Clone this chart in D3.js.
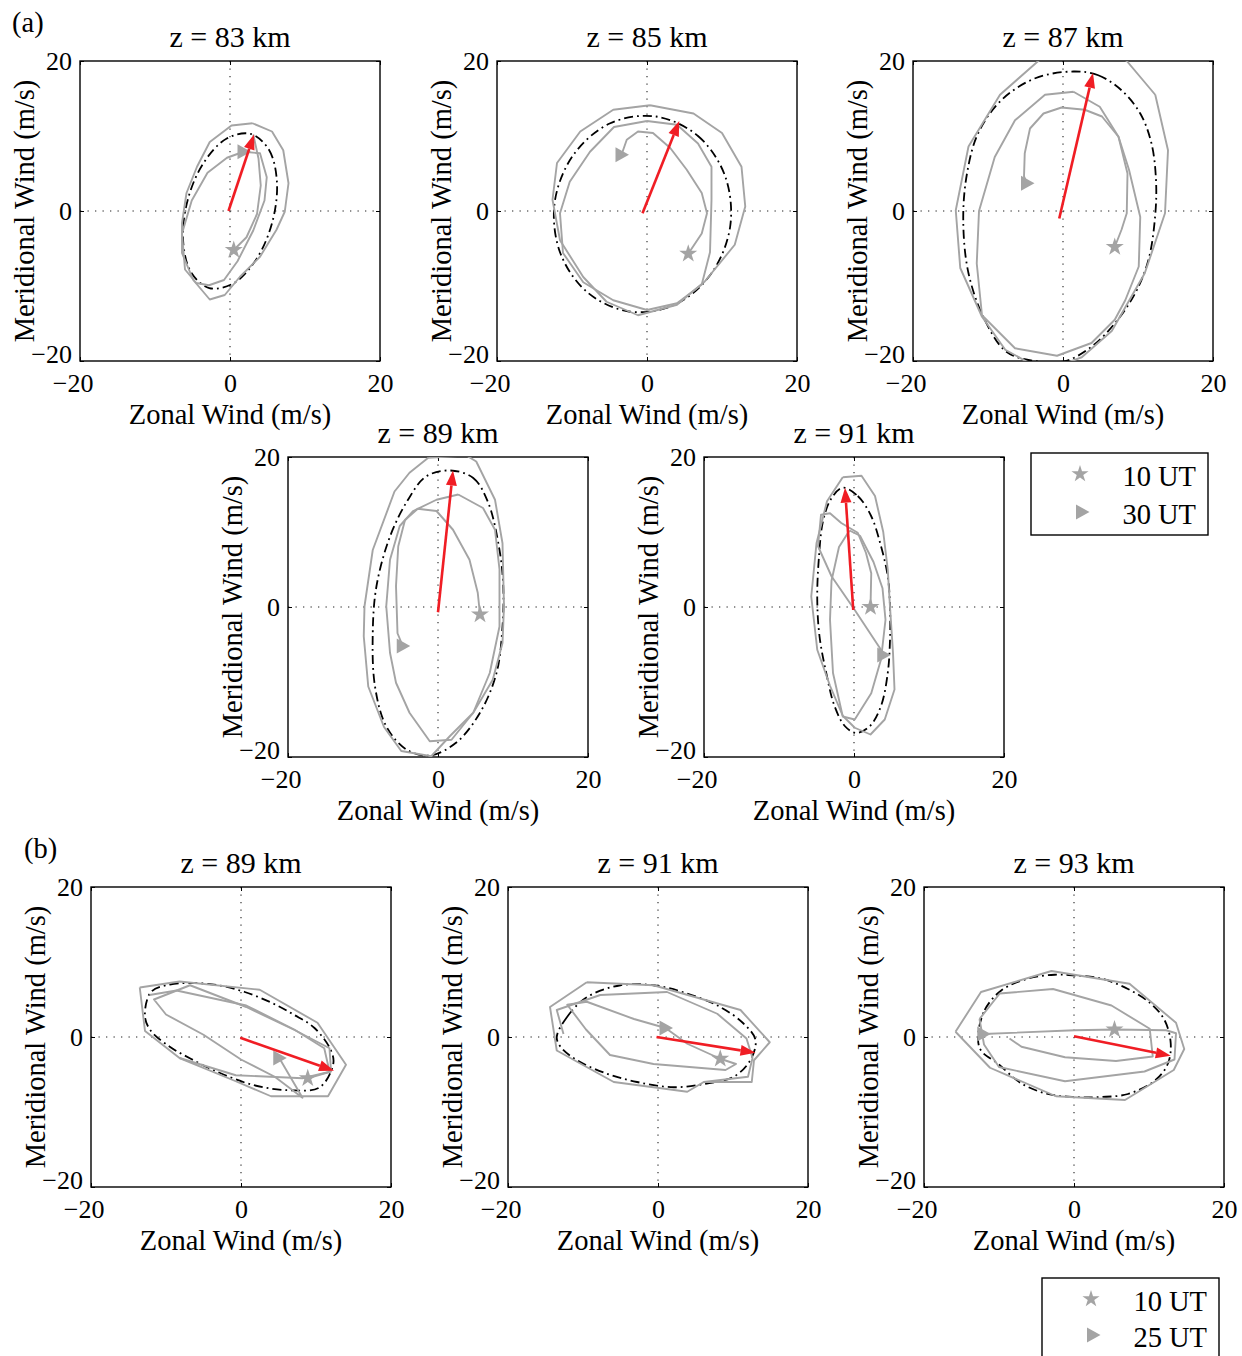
<!DOCTYPE html>
<html><head><meta charset="utf-8">
<script src="https://cdn.jsdelivr.net/npm/d3@7"></script>
<style>
body{margin:0;background:#fff}
svg{display:block}
text{font-family:"Liberation Serif","Times New Roman",serif;fill:#000}
</style>
</head><body>
<svg id="c" width="1242" height="1356"></svg>
<script>
// ---------------- data ----------------
const titles = ["z = 83 km","z = 85 km","z = 87 km","z = 89 km","z = 91 km","z = 89 km","z = 91 km","z = 93 km"];
const tickValues = [-20, 0, 20];
const tickLabels = ["\u221220", "0", "20"];
const xLabel = "Zonal Wind (m/s)";
const yLabel = "Meridional Wind (m/s)";
const legendA = ["10 UT", "30 UT"];
const legendB = ["10 UT", "25 UT"];

// fitted tidal ellipses (dash-dot), [u, v] in m/s
const ell83a = [[2.76,10.28],[5.21,8.14],[6.26,3.83],[5.63,-1.51],[3.50,-6.45],[0.43,-9.66],[-2.76,-10.28],[-5.21,-8.14],[-6.26,-3.83],[-5.63,1.51],[-3.50,6.45],[-0.43,9.66]];
const ell85a = [[1.2,12.6],[6.8,10.0],[10.4,4.7],[11.1,-2.0],[8.6,-8.3],[3.7,-12.5],[-2.4,-13.4],[-8.0,-10.8],[-11.6,-5.5],[-12.3,1.2],[-9.8,7.5],[-4.9,11.7]];
const ell87a = [[1.4,18.6],[4.7,18.1],[7.8,16.1],[10.3,13.0],[11.8,9.0],[12.4,4.1],[12.3,-0.5],[11.4,-6.5],[9.6,-11.0],[6.9,-15.0],[3.8,-18.1],[0.3,-20.0],[-3.8,-20.0],[-7.5,-18.8],[-10.4,-14.6],[-12.6,-8.3],[-13.3,-1.2],[-12.8,5.0],[-11.3,10.4],[-8.2,14.8],[-3.7,17.7]];
const ell89a = [[1.6,18.2],[4.7,17.2],[6.7,13.9],[8.2,7.6],[8.7,2.8],[8.6,-2.6],[7.8,-8.8],[5.6,-14.1],[2.4,-18.1],[-1.1,-19.8],[-4.2,-19.0],[-6.9,-15.9],[-8.4,-10.6],[-8.7,-3.5],[-8.2,2.8],[-6.4,9.4],[-4.0,14.3],[-1.6,17.4]];
const ell91a = [[-1.5,15.9],[0.5,14.8],[2.3,12.1],[3.6,8.1],[4.5,4.1],[4.8,0.1],[4.8,-4.4],[4.5,-8.8],[3.6,-13.2],[2.1,-15.9],[0.3,-16.8],[-1.2,-15.9],[-2.6,-13.2],[-3.7,-8.8],[-4.6,-3.9],[-4.9,1.0],[-4.7,6.3],[-4.1,11.6],[-3.0,14.5]];
const ell89b = [[-12.0,6.0],[-9.5,7.0],[-6.8,7.2],[-3.0,6.9],[0.5,6.0],[4.0,4.6],[7.0,3.0],[9.8,1.2],[12.0,-1.8],[12.3,-3.6],[10.5,-6.7],[6.5,-7.1],[1.6,-6.4],[-3.7,-4.4],[-6.7,-2.9],[-9.5,-1.3],[-12.0,0.8],[-12.8,2.7]];
const ell91b = [[-13.5,0.0],[-12.1,2.7],[-9.5,5.3],[-5.0,6.9],[-0.6,6.9],[3.9,5.8],[8.3,4.0],[11.4,1.8],[13.0,-0.4],[12.3,-3.1],[10.1,-5.3],[6.5,-6.2],[2.1,-6.7],[-2.8,-6.0],[-6.8,-4.9],[-10.8,-3.1],[-13.0,-1.3]];
const ell93b = [[-12.8,0.0],[-11.9,3.6],[-9.7,6.2],[-6.1,7.8],[-2.6,8.3],[0.1,8.2],[3.6,7.8],[7.2,6.4],[10.3,4.4],[12.1,2.2],[12.9,-0.9],[12.5,-3.6],[10.8,-5.8],[7.2,-7.6],[3.6,-8.0],[0.1,-8.0],[-3.5,-7.6],[-7.0,-6.2],[-10.1,-3.6],[-12.4,-1.8]];

// observed hodograph traces (grey), each a list of polylines of [u, v]
const tr83a = [
 [[0.5,-5.2],[2.2,-3.5],[3.6,-0.4],[4.1,3.4],[3.8,7.0],[3.1,10.2]],
 [[1.8,7.9],[-0.4,7.1],[-3.0,5.1],[-5.1,1.4],[-6.4,-3.0],[-6.0,-7.8],[-4.5,-9.6],[-2.8,-9.9],[-0.8,-9.2],[1.0,-6.7],[3.1,-2.6],[4.6,1.4],[4.9,4.5],[4.0,7.7],[1.8,7.9]],
 [[3.0,11.7],[0.2,11.4],[-2.7,9.2],[-4.4,5.9],[-5.8,2.4],[-6.4,-1.6],[-6.4,-5.6],[-4.9,-9.2],[-2.7,-11.8],[-0.7,-11.2],[1.3,-8.8],[4.0,-6.1],[6.2,-2.5],[7.3,-0.1],[7.8,3.7],[7.1,8.1],[5.6,10.6],[3.0,11.7]]
];
const tr85a = [
 [[5.5,-5.7],[7.3,-3.0],[8.0,-0.3],[7.3,2.4],[5.3,5.5],[3.1,8.4],[0.8,10.4],[-1.2,10.6],[-2.7,9.5],[-3.4,7.5]],
 [[0.0,12.0],[-4.4,11.2],[-7.6,7.9],[-10.3,3.9],[-11.6,-0.3],[-11.2,-5.6],[-8.5,-9.5],[-4.5,-11.9],[0.0,-13.2],[4.0,-12.3],[7.3,-9.8],[8.4,-5.5],[8.6,1.5],[8.6,5.9],[6.8,9.0],[4.0,11.5],[0.0,12.0]],
 [[0.4,14.1],[-4.5,13.5],[-8.9,10.6],[-12.0,6.4],[-12.6,1.5],[-11.6,-3.9],[-8.5,-8.8],[-5.4,-12.1],[-1.2,-13.9],[4.0,-12.5],[7.7,-9.4],[11.7,-4.5],[13.1,0.6],[12.6,5.9],[10.0,10.4],[6.2,13.0],[0.4,14.1]]
];
const tr87a = [
 [[6.9,-4.8],[7.8,-2.5],[8.5,-0.3],[8.6,5.0],[7.4,9.9],[5.2,12.6],[2.9,13.5],[-0.2,13.8],[-2.6,13.0],[-4.4,11.0],[-5.1,7.7],[-5.2,4.6],[-4.8,3.7]],
 [[1.4,15.9],[-2.4,15.5],[-6.4,12.1],[-9.1,7.2],[-11.2,0.0],[-11.5,-7.0],[-10.8,-13.9],[-6.4,-18.3],[-0.8,-19.3],[3.8,-17.6],[6.9,-14.5],[8.3,-11.9],[10.1,-7.4],[10.3,-0.8],[8.8,5.5],[7.4,9.9],[4.9,13.9],[1.4,15.9]],
 [[12.3,15.5],[8.5,20.0],[4.5,22.8],[0.0,23.5],[-3.3,20.0],[-8.4,15.5],[-12.6,8.6],[-14.3,0.1],[-13.7,-7.6],[-10.8,-14.1],[-7.7,-18.5],[-4.8,-20.1],[-1.5,-21.0],[2.5,-19.5],[6.5,-16.0],[10.9,-8.3],[13.6,-0.3],[14.0,8.1],[12.3,15.5]]
];
const tr89a = [
 [[5.6,-1.0],[5.3,1.9],[4.2,6.3],[2.0,10.3],[-0.2,12.8],[-2.7,13.1],[-4.4,11.6],[-5.3,8.1],[-5.6,2.8],[-5.4,-3.5],[-4.7,-5.2]],
 [[2.7,15.0],[-0.2,14.3],[-3.3,12.8],[-5.1,10.8],[-6.4,6.3],[-6.9,0.1],[-6.4,-6.1],[-5.6,-10.1],[-3.8,-14.1],[-1.1,-17.9],[1.8,-17.7],[4.7,-14.1],[6.9,-8.8],[8.2,-2.6],[8.2,5.0],[7.6,10.3],[6.0,13.2],[2.7,15.0]],
 [[-1.3,19.9],[-3.8,17.9],[-5.8,15.4],[-8.7,7.6],[-9.8,0.1],[-9.9,-3.9],[-9.3,-10.6],[-7.2,-16.0],[-4.9,-19.2],[-0.9,-19.9],[1.6,-17.2],[4.7,-14.1],[7.3,-9.7],[8.6,-4.8],[8.8,0.1],[8.6,8.5],[7.6,14.3],[5.1,19.4],[3.8,20.2],[-1.3,19.9]]
];
const tr91a = [
 [[2.2,0.0],[2.3,4.5],[1.6,7.2],[0.5,9.9],[-1.7,11.2],[-3.2,12.5],[-4.4,12.3],[-4.8,8.1],[-3.0,4.1],[0.1,-0.4],[3.6,-5.7],[3.9,-6.4]],
 [[-0.6,10.2],[-2.0,8.0],[-3.0,3.5],[-3.2,-1.7],[-2.8,-8.8],[-1.5,-14.6],[0.1,-15.0],[2.3,-11.5],[3.6,-7.0],[4.2,-1.7],[3.8,2.5],[2.6,6.0],[0.8,9.5],[-0.6,10.2]],
 [[-1.5,17.3],[1.0,17.5],[2.8,14.8],[3.9,10.0],[4.5,5.0],[4.8,0.0],[5.2,-6.1],[5.4,-11.0],[4.1,-15.0],[2.2,-17.0],[0.1,-16.1],[-1.5,-14.5],[-3.2,-10.5],[-4.9,-5.7],[-5.7,1.4],[-5.0,8.5],[-3.6,14.1],[-1.5,17.3]]
];
const tr89b = [
 [[-13.5,6.6],[-8.2,7.4],[2.5,6.3],[10.2,1.9],[14.0,-3.7],[11.6,-7.9],[4.0,-7.9],[-0.7,-5.9],[-8.2,-2.8],[-12.8,0.8],[-13.5,6.6]],
 [[8.9,-5.5],[12.0,-4.6],[11.8,-1.5],[7.2,0.9],[0.7,4.0],[-6.8,6.9],[-11.6,5.0],[-10.0,3.0],[-5.0,0.3],[0.0,-3.0],[4.5,-5.3],[8.2,-8.1],[5.1,-2.8]],
 [[-12.2,5.6],[-8.6,6.2],[0.7,4.2],[7.1,1.0],[11.1,-1.5],[11.8,-4.6]],
 [[-8.2,-2.8],[-0.7,-5.1],[8.2,-5.5],[12.0,-4.6]]
];
const tr91b = [
 [[-9.5,7.3],[-0.6,6.9],[11.0,3.6],[14.9,-0.7],[12.8,-3.1],[12.5,-6.0],[6.1,-6.0],[3.9,-7.3],[-5.9,-6.0],[-13.5,-1.8],[-14.4,4.0],[-9.5,7.3]],
 [[-12.6,0.4],[-13.5,3.6],[-7.7,5.6],[1.2,6.0],[7.9,3.1],[11.8,-0.2],[12.6,-2.8],[12.0,-5.3],[6.1,-6.0]],
 [[8.3,-2.9],[10.4,-3.6],[9.0,-4.4],[-0.6,-3.6],[-6.4,-2.4],[-9.6,1.0],[-12.1,4.3],[-9.5,4.7],[-3.2,2.4],[1.0,1.2],[3.9,-0.9],[8.3,-2.9]]
];
const tr93b = [
 [[-15.8,0.7],[-12.4,6.0],[-3.0,8.8],[7.4,7.1],[13.6,1.9],[14.7,-1.6],[13.3,-4.4],[6.8,-8.4],[-2.4,-7.9],[-11.2,-4.1],[-15.8,0.7]],
 [[-12.6,2.4],[-9.9,5.8],[-2.8,6.4],[5.0,4.2],[10.1,1.1],[10.5,-2.6],[5.6,-3.2],[-1.2,-2.7],[-7.0,-1.3],[-8.6,-0.2]],
 [[-12.6,2.4],[-12.0,-1.0],[-10.0,-4.0],[-1.2,-5.9],[9.4,-4.6],[13.4,-3.0],[13.6,0.5],[12.3,0.9],[5.4,1.0],[0.1,0.9],[-12.1,0.4]]
];

// markers and arrows, one entry per panel
const starPoints = [[0.5,-5.2],[5.5,-5.7],[6.9,-4.8],[5.6,-1.0],[2.2,0.0],[8.9,-5.5],[8.3,-2.9],[5.4,1.0]];
const triPoints  = [[1.8,7.9],[-3.4,7.5],[-4.8,3.7],[-4.7,-5.2],[3.9,-6.4],[5.1,-2.8],[1.0,1.2],[-12.1,0.4]];
const arrowTails = [[-0.2,0.0],[-0.6,-0.3],[-0.5,-1.0],[0.0,-0.7],[-0.1,-0.4],[-0.1,-0.1],[-0.2,0.0],[0.0,0.1]];
const arrowTips  = [[3.2,10.2],[4.3,12.0],[4.0,18.4],[2.0,18.2],[-1.2,15.9],[12.4,-4.5],[13.0,-2.1],[12.9,-2.5]];

const ellipses = [ell83a, ell85a, ell87a, ell89a, ell91a, ell89b, ell91b, ell93b];
const traces = [tr83a, tr85a, tr87a, tr89a, tr91a, tr89b, tr91b, tr93b];

// ---------------- layout ----------------
const S = 300;
const boxes = [[80,61],[497,61],[913,61],[288,457],[704,457],[91,887],[508,887],[924,887]];
const GREY = "#a4a4a4", RED = "#f01d24";
const TICKFS = 26, LABFS = 28.5, TITLEFS = 30;

const svg = d3.select("#c");
const defs = svg.append("defs");

function starPath(r){ return d3.symbol(d3.symbolStar, r*r/0.8908130915292852)(); }
const triPath = "M7.5,0L-6,-7.5L-6,7.5Z";

titles.forEach((title, i) => {
  const [bx, by] = boxes[i];
  const x = d3.scaleLinear().domain([-20,20]).range([bx, bx+S]);
  const y = d3.scaleLinear().domain([-20,20]).range([by+S, by]);
  const g = svg.append("g");

  defs.append("clipPath").attr("id","clip"+i)
    .append("rect").attr("x",bx).attr("y",by).attr("width",S).attr("height",S);

  // zero lines (dotted)
  g.append("line").attr("x1",x(0)).attr("x2",x(0)).attr("y1",by).attr("y2",by+S)
    .attr("stroke","#222").attr("stroke-width",1.1).attr("stroke-dasharray","1.3,6.2");
  g.append("line").attr("x1",bx).attr("x2",bx+S).attr("y1",y(0)).attr("y2",y(0))
    .attr("stroke","#222").attr("stroke-width",1.1).attr("stroke-dasharray","1.3,6.2");

  // axes
  const fmt = d => tickLabels[tickValues.indexOf(d)];
  const axB = g.append("g").attr("transform",`translate(0,${by+S})`)
    .call(d3.axisBottom(x).tickValues(tickValues).tickFormat(fmt).tickSizeInner(-4).tickSizeOuter(0).tickPadding(12.5));
  const axL = g.append("g").attr("transform",`translate(${bx},0)`)
    .call(d3.axisLeft(y).tickValues(tickValues).tickFormat(fmt).tickSizeInner(-4).tickSizeOuter(0).tickPadding(8));
  const axT = g.append("g").attr("transform",`translate(0,${by})`)
    .call(d3.axisTop(x).tickValues(tickValues).tickFormat("").tickSizeInner(-4).tickSizeOuter(0));
  const axR = g.append("g").attr("transform",`translate(${bx+S},0)`)
    .call(d3.axisRight(y).tickValues(tickValues).tickFormat("").tickSizeInner(-4).tickSizeOuter(0));
  [axB, axL, axT, axR].forEach(a => {
    a.select(".domain").remove();
    a.selectAll("line").attr("stroke","#000").attr("stroke-width",1);
    a.selectAll("text").attr("font-family",'"Liberation Serif","Times New Roman",serif')
      .attr("font-size",TICKFS).attr("fill","#000");
  });
  axB.selectAll("text").filter(d => d < 0).attr("text-anchor","end").attr("x",13);
  axL.selectAll("text").filter(d => d < 0).attr("dy","0.06em");

  // box
  g.append("rect").attr("x",bx).attr("y",by).attr("width",S).attr("height",S)
    .attr("fill","none").attr("stroke","#000").attr("stroke-width",1.4);

  // plot content
  const plot = g.append("g").attr("clip-path",`url(#clip${i})`);
  const line = d3.line().x(d => x(d[0])).y(d => y(d[1]));
  const closed = d3.line().x(d => x(d[0])).y(d => y(d[1])).curve(d3.curveCatmullRomClosed.alpha(0.5));

  plot.append("path").attr("d", closed(ellipses[i]))
    .attr("fill","none").attr("stroke","#000").attr("stroke-width",1.8)
    .attr("stroke-dasharray","9,4,1.8,4");

  traces[i].forEach(t => {
    plot.append("path").attr("d", line(t)).attr("fill","none")
      .attr("stroke",GREY).attr("stroke-width",1.9).attr("stroke-linejoin","round");
  });

  plot.append("path").attr("d", starPath(9.5)).attr("fill",GREY)
    .attr("transform",`translate(${x(starPoints[i][0])},${y(starPoints[i][1])})`);
  plot.append("path").attr("d", triPath).attr("fill",GREY)
    .attr("transform",`translate(${x(triPoints[i][0])},${y(triPoints[i][1])})`);

  // red arrow
  const tx = x(arrowTails[i][0]), ty = y(arrowTails[i][1]);
  const hx = x(arrowTips[i][0]), hy = y(arrowTips[i][1]);
  const ang = Math.atan2(hy-ty, hx-tx), HL = 15, HW = 5.5;
  const cx = hx - HL*Math.cos(ang), cy = hy - HL*Math.sin(ang);
  g.append("line").attr("x1",tx).attr("y1",ty).attr("x2",cx).attr("y2",cy)
    .attr("stroke",RED).attr("stroke-width",2.6);
  g.append("path").attr("fill",RED)
    .attr("d",`M${hx},${hy}L${cx+HW*Math.sin(ang)},${cy-HW*Math.cos(ang)}L${cx-HW*Math.sin(ang)},${cy+HW*Math.cos(ang)}Z`);

  // texts
  g.append("text").attr("x",bx+S/2).attr("y",by-14).attr("text-anchor","middle")
    .attr("font-size",TITLEFS).text(title);
  g.append("text").attr("x",bx+S/2).attr("y",by+S+63).attr("text-anchor","middle")
    .attr("font-size",LABFS).text(xLabel);
  g.append("text").attr("transform",`translate(${bx-46},${by+S/2}) rotate(-90)`)
    .attr("text-anchor","middle").attr("font-size",LABFS).text(yLabel);
});

// panel letters
svg.append("text").attr("x",12).attr("y",32).attr("font-size",LABFS).text("(a)");
svg.append("text").attr("x",24).attr("y",858).attr("font-size",LABFS).text("(b)");

// legends
function legend(x0, y0, w, h, labels, rows){
  const g = svg.append("g");
  g.append("rect").attr("x",x0).attr("y",y0).attr("width",w).attr("height",h)
    .attr("fill","#fff").attr("stroke","#000").attr("stroke-width",1.4);
  g.append("path").attr("d",starPath(9)).attr("fill",GREY)
    .attr("transform",`translate(${x0+49},${y0+rows[0]-12})`);
  g.append("path").attr("d",triPath).attr("fill",GREY)
    .attr("transform",`translate(${x0+51},${y0+rows[1]-12})`);
  labels.forEach((l, k) => {
    g.append("text").attr("x",x0+w-12).attr("y",y0+rows[k]).attr("text-anchor","end")
      .attr("font-size",LABFS).text(l);
  });
}
legend(1031, 453, 177, 82, legendA, [33, 71]);
legend(1042, 1278, 177, 110, legendB, [33, 69]);
</script>
</body></html>
